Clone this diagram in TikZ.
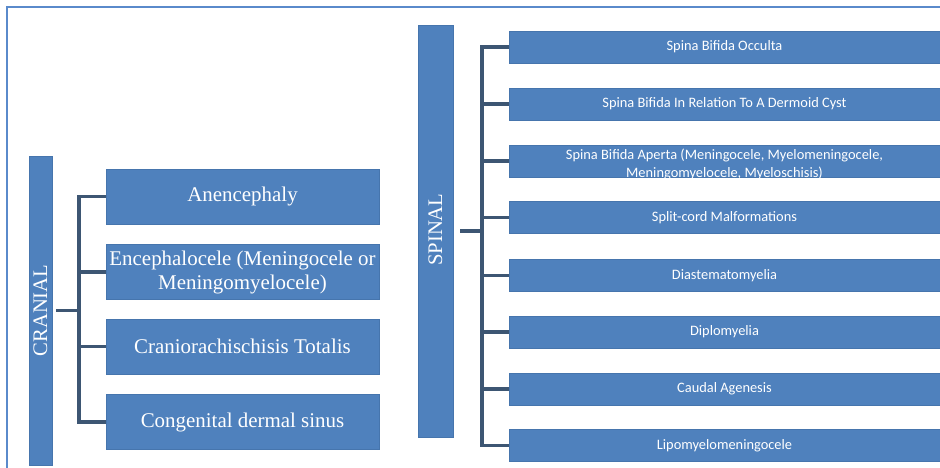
\documentclass[tikz,border=0pt]{standalone}
\usepackage{fontspec}
\setmainfont{Liberation Serif}
\newfontfamily\calfont{Carlito}
\definecolor{boxblue}{HTML}{4F81BD}
\definecolor{boxedge}{HTML}{4675AD}
\definecolor{linedark}{HTML}{3D5673}
\definecolor{framecol}{HTML}{5A8ACB}
\begin{document}
\begin{tikzpicture}[x=0.75pt,y=-0.75pt,
  bluebox/.style={rectangle,fill=boxblue,draw=boxedge,line width=0.6pt,text=white,inner sep=0pt,align=center},
  leftbox/.style={bluebox,minimum width=273*0.75pt,minimum height=55*0.75pt,font=\fontsize{15.7}{18}\selectfont},
  rightbox/.style={bluebox,minimum width=431*0.75pt,minimum height=32*0.75pt,font=\calfont\fontsize{10.8}{13.5}\selectfont},
  catbar/.style={bluebox,font=\fontsize{15}{18}\selectfont},
  conn/.style={draw=linedark,line width=2.4pt,line join=miter}
]
\useasboundingbox (0,0) rectangle (940,468);
\draw[framecol,line width=1.6pt] (7,468) -- (7,7) -- (940,7);

% cranial
\node[catbar,minimum width=23*0.75pt,minimum height=309*0.75pt] (cranial) at (40.5,310.5) {};
\node[rotate=90,text=white,font=\fontsize{15.5}{18}\selectfont] (cranialtxt) at (cranial.center) {CRANIAL};
\node[leftbox] (c1) at (242.5,196.5) {Anencephaly};
\node[leftbox] (c2) at (242.5,272) {Encephalocele (Meningocele or\\Meningomyelocele)};
\node[leftbox] (c3) at (242.5,346.5) {Craniorachischisis Totalis};
\node[leftbox] (c4) at (242.5,422) {Congenital dermal sinus};
\coordinate (cbus) at (79,310);
\draw[conn] ([xshift=3]cranial.east) -- (cranial.east -| cbus);
\draw[conn] (c1.west) -- (c1.west -| cbus) -- (c4.west -| cbus) -- (c4.west);
\foreach \i in {2,3} \draw[conn] (c\i.west -| cbus) -- (c\i.west);

% spinal
\node[catbar,minimum width=35*0.75pt,minimum height=412*0.75pt] (spinal) at (435.5,231) {};
\node[rotate=90,text=white,font=\fontsize{15.5}{18}\selectfont] (spinaltxt) at ([yshift=1]spinal.center) {SPINAL};
\node[rightbox] (s1) at (724.5,47) {Spina Bifida Occulta};
\node[rightbox] (s2) at (724.5,104) {Spina Bifida In Relation To A Dermoid Cyst};
\node[rightbox] (s3) at (724.5,161) {};
\node[text=white,align=center,inner sep=0pt,font=\calfont\fontsize{10.8}{13.5}\selectfont] (s3txt) at ([yshift=-2.5]s3.center) {Spina Bifida Aperta (Meningocele, Myelomeningocele,\\Meningomyelocele, Myeloschisis)};
\node[rightbox] (s4) at (724.5,217.5) {Split-cord Malformations};
\node[rightbox] (s5) at (724.5,275.5) {Diastematomyelia};
\node[rightbox] (s6) at (724.5,332) {Diplomyelia};
\node[rightbox] (s7) at (724.5,389) {Caudal Agenesis};
\node[rightbox] (s8) at (724.5,445.5) {Lipomyelomeningocele};
\coordinate (sbus) at (482,231);
\draw[conn] ([xshift=5]spinal.east) -- (spinal.east -| sbus);
\draw[conn] (s1.west) -- (s1.west -| sbus) -- (s8.west -| sbus) -- (s8.west);
\foreach \i in {2,...,7} \draw[conn] (s\i.west -| sbus) -- (s\i.west);
\end{tikzpicture}
\end{document}
